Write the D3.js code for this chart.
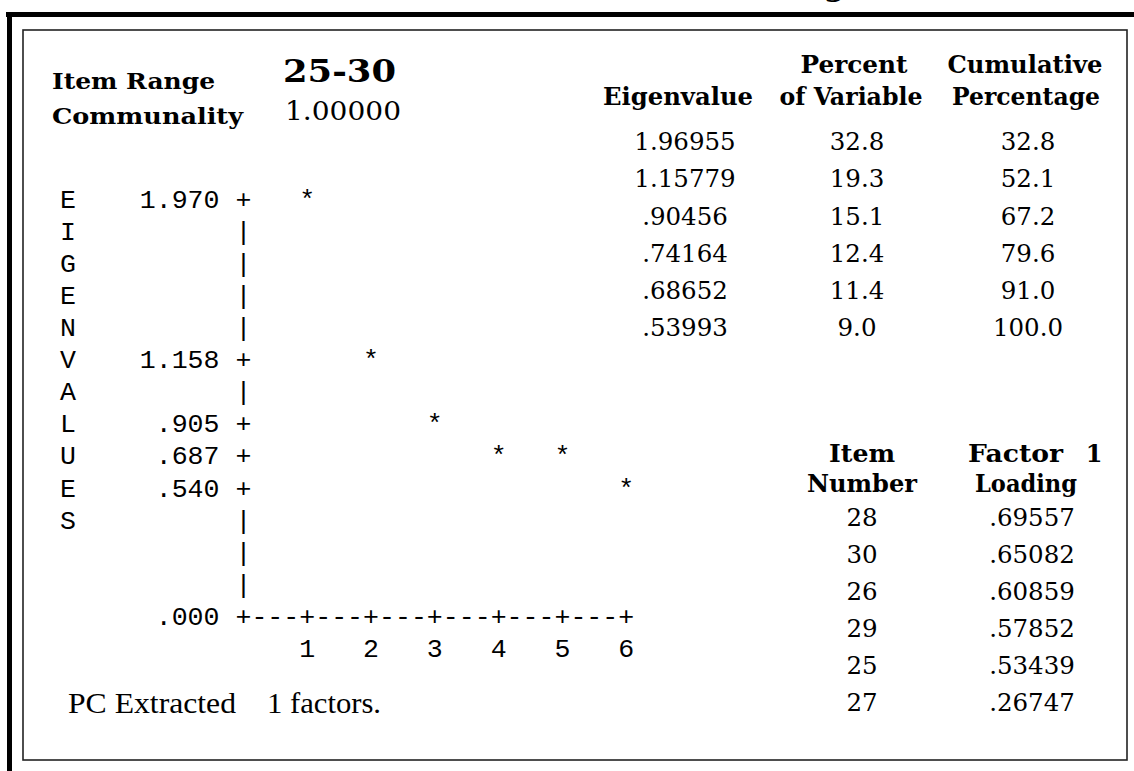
<!DOCTYPE html>
<html><head><meta charset="utf-8">
<script src="https://cdn.jsdelivr.net/npm/d3@7"></script>
<style>html,body{margin:0;padding:0;background:#fff;} svg{display:block}</style>
</head><body><svg id="c" width="1134" height="771"></svg>
<script>
// ---- data ----
const itemRange = "25-30";
const communality = "1.00000";
const factorNumbers = [1, 2, 3, 4, 5, 6];
const eigenvalues = [1.96955, 1.15779, 0.90456, 0.74164, 0.68652, 0.53993];
const percentOfVariable = [32.8, 19.3, 15.1, 12.4, 11.4, 9.0];
const cumulativePercentage = [32.8, 52.1, 67.2, 79.6, 91.0, 100.0];
const yTickValues = [1.970, 1.158, 0.905, 0.687, 0.540, 0.000];
const yTickLabels = ["1.970", "1.158", ".905", ".687", ".540", ".000"];
const xTickValues = [0, 1, 2, 3, 4, 5, 6];
const xTickLabels = ["", "1", "2", "3", "4", "5", "6"];
const yAxisTitle = ["E","I","G","E","N","V","A","L","U","E","S"];
const itemNumbers = [28, 30, 26, 29, 25, 27];
const factorLoadings = [0.69557, 0.65082, 0.60859, 0.57852, 0.53439, 0.26747];
const factorsExtracted = 1;

const svg = d3.select("#c");
const SERIF = "'DejaVu Serif', serif";
const TIMES = "'Liberation Serif', 'Times New Roman', serif";
const MONO = "'Liberation Mono', 'Courier New', monospace";

// ---- frame ----
svg.append("rect").attr("x", 0).attr("y", 0).attr("width", 1134).attr("height", 771).attr("fill", "#fff");
svg.append("text").attr("x", 824).attr("y", -4).attr("font-family", SERIF).attr("font-weight", "bold")
  .attr("font-size", 30).attr("fill", "#000").text("g");
svg.append("rect").attr("x", 6).attr("y", 12).attr("width", 1128).attr("height", 5).attr("fill", "#000");
svg.append("rect").attr("x", 7).attr("y", 12).attr("width", 5).attr("height", 759).attr("fill", "#000");
svg.append("rect").attr("x", 23).attr("y", 30).attr("width", 1104).attr("height", 730)
  .attr("fill", "none").attr("stroke", "#222").attr("stroke-width", 1.6);

function txt(x, yCenter, s, o) {
  const size = o.size, cap = o.cap || 0.73;
  const t = svg.append("text").attr("x", x).attr("y", yCenter + size * cap / 2)
    .attr("font-family", o.family).attr("font-size", size).attr("fill", "#000")
    .attr("font-weight", o.bold ? "bold" : "normal")
    .attr("text-anchor", o.anchor || "start").text(s);
  if (o.len) t.attr("textLength", o.len).attr("lengthAdjust", "spacingAndGlyphs");
  return t;
}

// ---- title block ----
txt(52, 81, "Item Range", {family: SERIF, bold: true, size: 23, len: 163});
txt(283, 71, itemRange, {family: SERIF, bold: true, size: 31, len: 113});
txt(52, 116, "Communality", {family: SERIF, bold: true, size: 23, len: 191});
txt(285, 111, communality, {family: SERIF, size: 26, len: 116});

// ---- scree plot (character grid) ----
const CW = 15.95, MONO_SIZE = 26.58;
const colX = d3.scaleLinear().domain([0, 1]).range([68, 68 + CW]);
const rowY = d3.scaleLinear().domain([0, 1]).range([200, 232.1]);
const colScale = d3.scaleLinear().domain([0, 6]).range([11, 35]);
const rowScale = d3.scaleLinear().domain([0, 1.970]).range([13, 0]);
const rowOf = v => Math.round(rowScale(v));
const AXIS_COL = colScale(0), AXIS_ROW = rowOf(0);

const plot = svg.append("g").attr("font-family", MONO).attr("font-size", MONO_SIZE).attr("fill", "#000");
function ch(c, r, s) {
  plot.append("text").attr("x", colX(c)).attr("y", rowY(r) + 7.6).attr("text-anchor", "middle").text(s);
}
yAxisTitle.forEach((l, i) => ch(0, i, l));
const tickRows = new Set(yTickValues.map(rowOf));
for (let r = 0; r < AXIS_ROW; r++) ch(AXIS_COL, r, tickRows.has(r) ? "+" : "|");
yTickValues.forEach((v, i) => {
  const s = yTickLabels[i], r = rowOf(v);
  for (let k = 0; k < s.length; k++) ch(AXIS_COL - 1 - s.length + k, r, s[k]);
});
const tickCols = new Set(xTickValues.map(v => colScale(v)));
for (let c = colScale(0); c <= colScale(6); c++) ch(c, AXIS_ROW, tickCols.has(c) ? "+" : "-");
xTickValues.forEach((v, i) => { if (xTickLabels[i]) ch(colScale(v), AXIS_ROW + 1, xTickLabels[i]); });
eigenvalues.forEach((v, i) => ch(colScale(factorNumbers[i]), rowOf(v), "*"));

txt(68, 703, "PC Extracted", {family: TIMES, size: 30, cap: 0.66, len: 168});
txt(267, 703, factorsExtracted + " factors.", {family: TIMES, size: 30, cap: 0.66, len: 114});

// ---- eigenvalue table ----
const fmt5 = v => d3.format(".5f")(v).replace(/^0\./, ".");
const fmt1 = d3.format(".1f");
const upperRow = d3.scaleLinear().domain([0, 1]).range([141, 178.3]);
const H = {family: SERIF, bold: true, size: 24, anchor: "middle"};
txt(854, 64, "Percent", {...H, len: 107});
txt(1025, 64, "Cumulative", {...H, len: 155});
txt(678, 96, "Eigenvalue", {...H, len: 150});
txt(851, 96, "of Variable", {...H, len: 143});
txt(1026, 96, "Percentage", {...H, len: 148});
eigenvalues.forEach((v, i) => {
  txt(685, upperRow(i), fmt5(v), {family: SERIF, size: 24.5, anchor: "middle"});
  txt(857, upperRow(i), fmt1(percentOfVariable[i]), {family: SERIF, size: 24.5, anchor: "middle"});
  txt(1028, upperRow(i), fmt1(cumulativePercentage[i]), {family: SERIF, size: 24.5, anchor: "middle"});
});

// ---- loading table ----
const lowerRow = d3.scaleLinear().domain([0, 1]).range([517, 554]);
txt(862, 453, "Item", {...H, len: 66});
txt(968, 453, "Factor", {...H, anchor: "start", len: 95});
txt(1094, 453, String(factorsExtracted), {...H});
txt(862, 483, "Number", {...H, len: 110});
txt(1026, 483, "Loading", {...H, len: 102});
itemNumbers.forEach((n, i) => {
  txt(862, lowerRow(i), String(n), {family: SERIF, size: 24.5, anchor: "middle"});
  txt(1032, lowerRow(i), fmt5(factorLoadings[i]), {family: SERIF, size: 24.5, anchor: "middle"});
});
</script></body></html>
